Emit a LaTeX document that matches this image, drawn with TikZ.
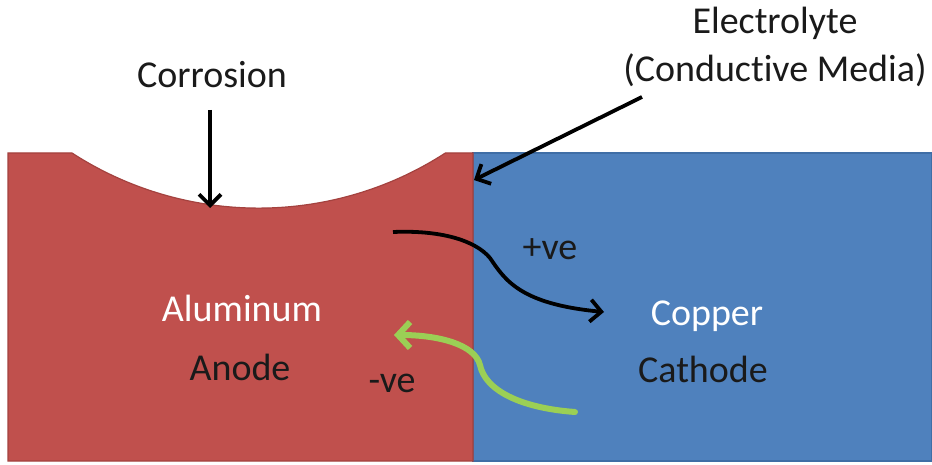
\documentclass[tikz,border=0pt]{standalone}
\usepackage{fontspec}
\setmainfont[Ligatures=NoCommon]{Carlito}
\usetikzlibrary{arrows.meta}
\definecolor{anodered}{HTML}{C0504D}
\definecolor{anodeedge}{HTML}{A4423F}
\definecolor{cathblue}{HTML}{4F81BD}
\definecolor{cathedge}{HTML}{3F6EA6}
\definecolor{darktext}{HTML}{1A1A1A}
\definecolor{limegreen}{HTML}{9BCF55}
\tikzset{
  lbl/.style={anchor=base, inner sep=0pt, font=\fontsize{38}{45}\selectfont},
  whitelbl/.style={lbl, text=white},
  darklbl/.style={lbl, text=darktext},
  blackarrow/.style={draw=black, line width=3.8pt, -{Straight Barb[length=11pt,width=22pt,line width=3.8pt]}},
  greenarrow/.style={draw=limegreen, line width=6pt, line cap=round, -{Straight Barb[length=12pt,width=26pt,line width=6pt]}}
}
\begin{document}
\begin{tikzpicture}[x=1pt,y=-1pt]
\useasboundingbox (0,0) rectangle (932,465);
\fill[white] (0,0) rectangle (932,465);
% cathode block
\fill[cathblue, draw=cathedge, line width=1.2pt] (473,153) rectangle (932,461);
% anode block with corrosion pit
\fill[anodered, draw=anodeedge, line width=1.2pt] (8,153) -- (72,153)
  arc[start angle=122.9, end angle=57.1, radius=343.7] -- (473,153) -- (473,461) -- (8,461) -- cycle;
% labels
\node[darklbl] (corrosion) at (212,88) {Corrosion};
\node[darklbl] (electrolyte) at (775,34) {Electrolyte};
\node[darklbl] (media) at (775,82) {(Conductive Media)};
\node[whitelbl] (aluminum) at (242,321) {Aluminum};
\node[darklbl] (anode) at (240,380) {Anode};
\node[whitelbl] (copper) at (707,325) {Copper};
\node[darklbl] (cathode) at (703,382) {Cathode};
\node[darklbl] (pos) at (550,259) {+ve};
\node[darklbl] (neg) at (392,392) {-ve};
% connectors
\coordinate (corrtop) at (210,110);
\coordinate (pit) at (210,208);
\coordinate (elstart) at (642,97);
\coordinate (iface) at (474,180);
\draw[blackarrow] (corrtop) -- (pit);
\draw[blackarrow] (elstart) -- (iface);
\coordinate (bstart) at (393,232);
\coordinate (bmid) at (490,258);
\coordinate (bend) at (604,312);
\draw[blackarrow] (bstart) .. controls (440,230) and (475,240) .. (bmid)
  .. controls (505,280) and (520,304) .. (bend);
\coordinate (gstart) at (575,412);
\coordinate (gmid) at (480,365);
\coordinate (gend) at (394,335);
\draw[greenarrow] (gstart) .. controls (520,408) and (485,390) .. (gmid)
  .. controls (475,345) and (440,335) .. (gend);
\end{tikzpicture}
\end{document}
